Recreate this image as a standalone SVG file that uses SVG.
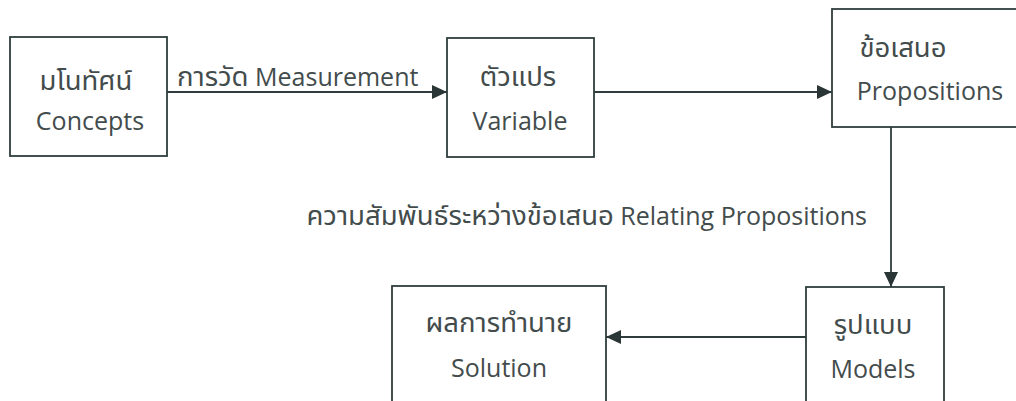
<svg xmlns="http://www.w3.org/2000/svg" width="1016" height="401" viewBox="0 0 1016 401">
  <style>
    .box { fill: #ffffff; stroke: #2f3d3d; stroke-width: 1.8; }
    .lbl { font-family: "Open Sans", "Noto Sans Thai", "Noto Sans Thai UI", "Leelawadee UI", "Loma", "Garuda", "Waree", "Noto Sans", sans-serif; font-size: 25px; fill: #434c4c; }
    .th { font-size: 27.5px; }
    .c { text-anchor: middle; }
    .conn { fill: none; stroke: #2f3d3d; stroke-width: 1.8; }
  </style>
  <defs>
    <marker id="arr" markerWidth="16" markerHeight="14" refX="15" refY="7" orient="auto" markerUnits="userSpaceOnUse">
      <path d="M0,0 L15,7 L0,14 Z" fill="#2a3535"/>
    </marker>
  </defs>
  <rect width="1016" height="401" fill="#ffffff"/>

  <g id="connectors">
    <line class="conn" x1="167" y1="92" x2="447" y2="92" marker-end="url(#arr)"/>
    <line class="conn" x1="594" y1="92" x2="832" y2="92" marker-end="url(#arr)"/>
    <line class="conn" x1="891" y1="127" x2="891" y2="287" marker-end="url(#arr)"/>
    <line class="conn" x1="806" y1="337" x2="606" y2="337" marker-end="url(#arr)"/>
    <text class="lbl" x="177" y="86"><tspan class="th">การวัด</tspan> Measurement</text>
    <text class="lbl" x="867" y="225" text-anchor="end"><tspan class="th">ความสัมพันธ์ระหว่างข้อเสนอ</tspan> Relating Propositions</text>
  </g>

  <g id="node-concepts">
    <rect class="box" x="10" y="37" width="157" height="119"/>
    <text class="lbl th c" x="86" y="90">มโนทัศน์</text>
    <text class="lbl c" x="90" y="130">Concepts</text>
  </g>

  <g id="node-variable">
    <rect class="box" x="447" y="38" width="147" height="119"/>
    <text class="lbl th c" x="518" y="86">ตัวแปร</text>
    <text class="lbl c" x="520" y="130">Variable</text>
  </g>

  <g id="node-propositions">
    <rect class="box" x="832" y="9" width="200" height="118"/>
    <text class="lbl th c" x="903" y="57">ข้อเสนอ</text>
    <text class="lbl c" x="930" y="100">Propositions</text>
  </g>

  <g id="node-models">
    <rect class="box" x="806" y="287" width="138" height="140"/>
    <text class="lbl th c" x="873" y="334">รูปแบบ</text>
    <text class="lbl c" x="873" y="378">Models</text>
  </g>

  <g id="node-solution">
    <rect class="box" x="392" y="286" width="214" height="140"/>
    <text class="lbl th c" x="499" y="332">ผลการทำนาย</text>
    <text class="lbl c" x="499" y="377">Solution</text>
  </g>
</svg>
